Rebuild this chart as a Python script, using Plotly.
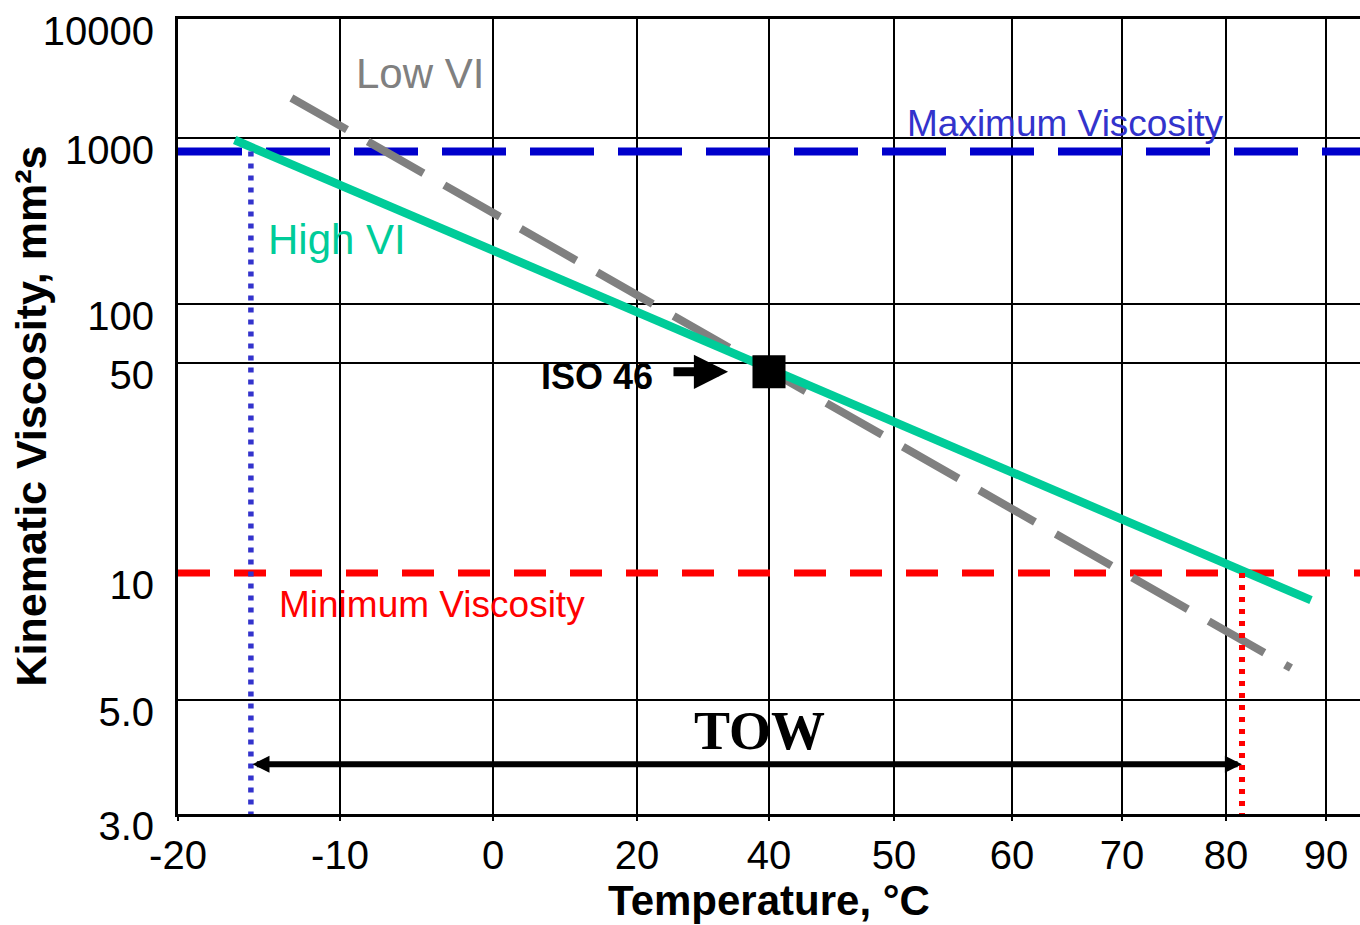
import numpy as np
import plotly.graph_objects as go

# ---------------- data ----------------
temp_ticks = [-20, -10, 0, 20, 40, 50, 60, 70, 80, 90]
temp_tick_labels = ["-20", "-10", "0", "20", "40", "50", "60", "70", "80", "90"]
visc_ticks = [3, 5, 10, 50, 100, 1000, 10000]
visc_tick_labels = ["3.0", "5.0", "10", "50", "100", "1000", "10000"]
visc_grid = [3, 5, 50, 100, 1000, 10000]

high_vi_temp = [-16.5, 88.5]
high_vi_visc = [967, 8.5]
low_vi_temp = [-13.0, 86.5]
low_vi_visc = [2020, 5.86]
max_visc = 800
min_visc = 10
tow_temp = [-15.5, 81.6]
tow_visc = 3.7
iso_temp = [40]
iso_visc = [46]

# ---------------- scale (chart ruling) ----------------
FONT = "Liberation Sans, Arial, sans-serif"
X_GRID_OFFSETS = [0, 162, 315, 459, 591, 716, 834, 944, 1048, 1148]
X_RANGE = [0, 1182]
Y_GRID_OFFSETS = [0, 114, 241, 451, 510, 676, 795]
Y_RANGE = [-0.01, 795.01]


def loglog(v):
    return np.log10(np.log10(np.asarray(v, dtype=float) + 0.7))


def tx(t):
    return np.round(np.interp(t, temp_ticks, X_GRID_OFFSETS), 6)


def ty(v):
    return np.round(np.interp(loglog(v), loglog(visc_ticks), Y_GRID_OFFSETS), 6)


fig = go.Figure()

# horizontal limits
fig.add_trace(go.Scatter(x=X_RANGE, y=[ty(min_visc)] * 2, mode="lines",
                         line=dict(color="#FF0000", width=7, dash="32px,24px"),
                         hoverinfo="skip", showlegend=False))
fig.add_trace(go.Scatter(x=X_RANGE, y=[ty(max_visc)] * 2, mode="lines",
                         line=dict(color="#0000CC", width=8, dash="64px,24px"),
                         hoverinfo="skip", showlegend=False))
# viscosity-temperature lines
fig.add_trace(go.Scatter(x=tx(low_vi_temp), y=ty(low_vi_visc), mode="lines",
                         line=dict(color="#808080", width=8, dash="64px,24px"),
                         name="Low VI", showlegend=False))
fig.add_trace(go.Scatter(x=tx(high_vi_temp), y=ty(high_vi_visc), mode="lines",
                         line=dict(color="#00CC99", width=8.5),
                         name="High VI", showlegend=False))
# TOW limits
fig.add_trace(go.Scatter(x=tx([tow_temp[0]] * 2), y=ty([max_visc, 3]), mode="lines",
                         line=dict(color="#3333CC", width=5.5, dash="5px,7px"),
                         hoverinfo="skip", showlegend=False))
fig.add_trace(go.Scatter(x=tx([tow_temp[1]] * 2), y=ty([min_visc, 3]), mode="lines",
                         line=dict(color="#FF0000", width=6, dash="5px,7px"),
                         hoverinfo="skip", showlegend=False))
# ISO 46 point
fig.add_trace(go.Scatter(x=tx(iso_temp), y=ty(iso_visc), mode="markers",
                         marker=dict(symbol="square", size=33, color="black"),
                         name="ISO 46", showlegend=False))

# ---------------- annotations ----------------
ann = []
ann.append(dict(x=tx(tow_temp[1]), y=ty(tow_visc), ax=tx(tow_temp[0]), ay=ty(tow_visc),
                xref="x", yref="y", axref="x", ayref="y", text="", showarrow=True,
                arrowhead=2, arrowsize=0.57, arrowwidth=6, arrowcolor="black",
                arrowside="end+start", startarrowhead=2, startarrowsize=0.57,
                standoff=0, startstandoff=0))
ann.append(dict(x=tx(33.8), y=ty(iso_visc[0]), ax=tx(25.3), ay=ty(iso_visc[0]),
                xref="x", yref="y", axref="x", ayref="y", text="", showarrow=True,
                arrowhead=2, arrowsize=0.76, arrowwidth=9, arrowcolor="black",
                standoff=0))


def label(text, t, v, color, size, family=FONT):
    return dict(x=tx(t), y=ty(v), xref="x", yref="y", text=text, showarrow=False,
                xanchor="center", yanchor="middle",
                font=dict(family=family, size=size, color=color))


ann.append(label("Low VI", -4.8, 3240, "#808080", 42))
ann.append(label("High VI", -10.2, 221, "#00CC99", 42))
ann.append(label("Maximum Viscosity", 64.8, 1290, "#3333CC", 37))
ann.append(label("Minimum Viscosity", -4.0, 8.3, "#FF0000", 37))
ann.append(label("<b>ISO 46</b>", 14.4, 44.2, "black", 36))
ann.append(label("<b>TOW</b>", 38.5, 4.31, "black", 54,
                 family="Liberation Serif, Times New Roman, serif"))
ann.append(dict(x=(30 - 178) / 1182, y=0.5, xref="paper", yref="paper",
                text="<b>Kinematic Viscosity, mm²s</b>", textangle=-90,
                showarrow=False, xanchor="center", yanchor="middle",
                font=dict(family=FONT, size=43, color="black")))

fig.update_layout(
    width=1360, height=925,
    margin=dict(l=178, r=0, t=19, b=111),
    paper_bgcolor="white", plot_bgcolor="white",
    font=dict(family=FONT, size=40, color="black"),
    annotations=ann,
    xaxis=dict(
        range=X_RANGE, tickmode="array", tickvals=tx(temp_ticks), ticktext=temp_tick_labels,
        showgrid=True, gridcolor="black", gridwidth=2, zeroline=False,
        showline=True, linecolor="black", linewidth=3, mirror=True,
        ticks="outside", ticklen=4, tickwidth=2, tickcolor="black",
        tickfont=dict(family=FONT, size=40, color="black"),
        title=dict(text="<b>Temperature, °C</b>", standoff=5,
                   font=dict(family=FONT, size=42, color="black")),
        automargin=False, fixedrange=True,
    ),
    yaxis=dict(
        range=Y_RANGE, tickmode="array", tickvals=ty(visc_ticks), ticktext=visc_tick_labels,
        showgrid=False, zeroline=False,
        showline=True, linecolor="black", linewidth=3,
        ticks="", ticklabelstandoff=13, ticklabelshift=12,
        tickfont=dict(family=FONT, size=40, color="black"),
        minor=dict(tickmode="array", tickvals=ty(visc_grid), showgrid=True,
                   gridcolor="black", gridwidth=2, ticks=""),
        automargin=False, fixedrange=True,
    ),
)

fig.write_html("out.html",
               config={"displayModeBar": False},
               post_script="document.body.style.margin='0px';"
                           "document.body.style.overflow='hidden';")
